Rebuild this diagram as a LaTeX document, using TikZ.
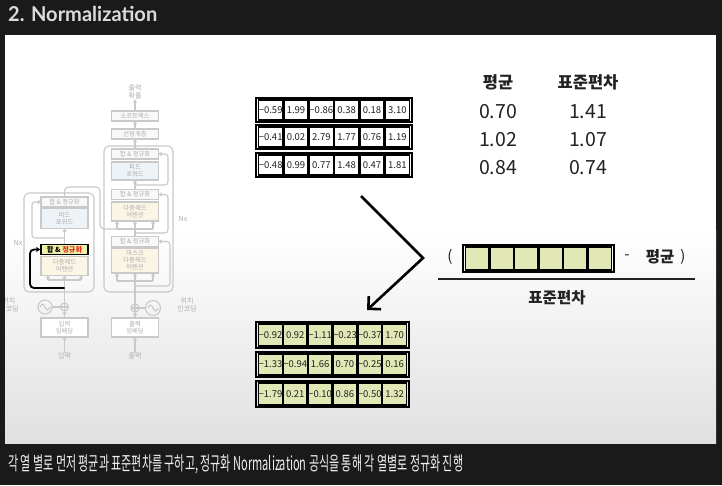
\documentclass[tikz,border=0pt]{standalone}
\usepackage{fontspec}
\setmainfont{Noto Sans CJK KR}
\newfontfamily\titlefont{Lato}
\usetikzlibrary{arrows.meta}
\definecolor{bg}{HTML}{1A1A1A}
\definecolor{fl}{HTML}{C9C9C9}
\definecolor{ft}{HTML}{ADADAD}
\definecolor{cellfill}{HTML}{E2E7B6}
\definecolor{ffblue}{HTML}{EEF3F8}
\definecolor{attn}{HTML}{FBF5E6}
\definecolor{fnorm}{HTML}{F8F8F8}
\definecolor{hl}{HTML}{EEF0A8}
\definecolor{hlred}{HTML}{E02A1A}
\definecolor{capt}{HTML}{F0F0F0}
\definecolor{titlecol}{HTML}{DCDCDC}
\definecolor{ink}{HTML}{222222}
\tikzset{
  fbox/.style={draw=fl, line width=1.1pt, fill=white, minimum width=47pt, inner sep=0pt, outer sep=0pt,
    font=\fontsize{6.3}{7}\selectfont, text=ft, align=center},
  ftext/.style={inner sep=0pt, font=\fontsize{7}{8}\selectfont, text=ft, align=center},
  fline/.style={draw=fl, line width=1.1pt},
  farrow/.style={draw=fl, line width=1.1pt, -{Triangle[length=3pt,width=4pt]}},
  rowbox/.style={draw=black, line width=2pt, inner sep=0pt, outer sep=0pt},
  cellbox/.style={draw=black, line width=1.3pt, inner sep=0pt, outer sep=0pt, text=ink,
    font=\fontsize{9.5}{10}\selectfont},
  bigtext/.style={inner sep=0pt, text=ink},
}
\newcommand\mrow[7]{%
  \node[rowbox, minimum width=#4, minimum height=#5, anchor=north west] (#1) at (#2,#3) {};
  \foreach \v [count=\i] in {#7} {
    \node[cellbox, fill=#6, minimum width={(#4-4)/6-1.2}, minimum height={#5-4}, anchor=north west]
      (#1-\i) at ({#2+2.6+(\i-1)*(#4-4)/6}, #3+2) {\v};
  }%
}
\begin{document}
\begin{tikzpicture}[x=1pt,y=-1pt]
\fill[bg] (0,0) rectangle (722,485);
\path[use as bounding box] (0,0) rectangle (722,485);
% panel
\fill[white] (5,35) rectangle (716,443);
\shade[top color=white, bottom color=black!12] (5,230) rectangle (716,443);
% title
\node[anchor=base west, inner sep=0pt, text=titlecol] (title) at (8,21.5)
  {\resizebox{149pt}{\height}{\titlefont\bfseries\fontsize{20.5}{24}\selectfont 2. Normalization}};
% caption
\node[anchor=west, inner sep=0pt, text=capt] (caption) at (8,464)
  {\resizebox{455pt}{\height}{\fontsize{19}{22}\selectfont 각 열 별로 먼저 평균과 표준편차를 구하고, 정규화 Normalization 공식을 통해 각 열별로 정규화 진행}};

\begin{scope}
\clip (5,35) rectangle (716,443);
% ---------- faded transformer ----------
\node[draw=fl, line width=1.1pt, rounded corners=5pt, minimum width=70pt, minimum height=99pt, inner sep=0pt] (eBlock) at (59,242.5) {};
\node[draw=fl, line width=1.1pt, rounded corners=5pt, minimum width=69pt, minimum height=146pt, inner sep=0pt] (dBlock) at (138.5,219) {};
% encoder
\node[fbox, minimum height=10pt, fill=fnorm] (eAN2) at (64.5,202) {합 \& 정규화};
\node[fbox, minimum height=20pt, fill=ffblue] (eFF) at (64.5,218.5) {피드\\포워드};
\node[fbox, minimum height=19pt, fill=attn] (eMHA) at (64.5,266) {다중헤드\\어텐션};
\node[draw=black, line width=1.5pt, fill=hl, minimum width=47pt, minimum height=10pt, inner sep=0pt,
  font=\fontsize{7.2}{8}\selectfont\bfseries] (eAN1) at (64.5,249.5) {합 \& \textcolor{hlred}{정규화}};
\node[fbox, minimum height=19pt] (eEmb) at (64.5,327.5) {입력\\임베딩};
\node[ftext] (eIn) at (64.5,356) {입력};
\node[circle, draw=fl, line width=1.1pt, minimum size=8pt, inner sep=0pt, outer sep=0pt] (ePlus) at (64.5,307) {};
\draw[fline] (ePlus.north) -- (ePlus.south) (ePlus.west) -- (ePlus.east);
\node[circle, draw=fl, line width=1.1pt, minimum size=14pt, inner sep=0pt, outer sep=0pt] (eWave) at (45,307) {};
\draw[fline] ([xshift=-5pt]eWave.center) sin ++(2.5,-3) cos ++(2.5,3) sin ++(2.5,3) cos ++(2.5,-3);
\draw[fline] (eWave.east) -- (ePlus.west);
\node[ftext] (eNx) at (18,243) {Nx};
\node[ftext] (ePos) at (9,305) {위치\\인코딩};
\draw[farrow] (eIn.north) -- (eEmb.south);
\draw[farrow] (eEmb.north) -- (ePlus.south);
\draw[fline] (ePlus.north) -- (64.5,280);
\draw[fline] (48,280) -- (81,280);
\foreach \xx in {48,64.5,81} \draw[farrow] (\xx,280) -- (\xx,275.5);
\draw[farrow] (eAN1.north) -- (eFF.south);
\draw[farrow, rounded corners=3pt] (64.5,238) -- (32,238) -- (32,202) -- (eAN2.west);
\draw[fline, rounded corners=4pt] (eAN2.north) -- (64.5,187) -- (100,187) -- (100,229) -- (117,229);
\draw[black, line width=1.8pt, rounded corners=4pt, -{Triangle[length=4pt,width=5pt]}]
  (64.5,288) -- (30,288) -- (30,249.5) -- (eAN1.west);
% decoder
\node[ftext] (dOut) at (135,92) {출력\\확률};
\node[fbox, minimum height=10pt, fill=fnorm] (dSoft) at (135,116) {소프트맥스};
\node[fbox, minimum height=10pt, fill=fnorm] (dLin) at (135,134) {선형계층};
\node[fbox, minimum height=10pt, fill=fnorm] (dAN3) at (135,154) {합 \& 정규화};
\node[fbox, minimum height=18pt, fill=ffblue] (dFF) at (135,171) {피드\\포워드};
\node[fbox, minimum height=10pt, fill=fnorm] (dAN2) at (135,194.5) {합 \& 정규화};
\node[fbox, minimum height=19pt, fill=attn] (dMHA) at (135,211.5) {다중헤드\\어텐션};
\node[fbox, minimum height=10pt, fill=fnorm] (dAN1) at (135,241.5) {합 \& 정규화};
\node[fbox, minimum height=25pt, fill=attn] (dMMHA) at (135,260.5) {마스크\\다중헤드\\어텐션};
\node[fbox, minimum height=19pt] (dEmb) at (135,327.5) {출력\\임베딩};
\node[ftext] (dIn) at (135,356) {출력};
\node[circle, draw=fl, line width=1.1pt, minimum size=8pt, inner sep=0pt, outer sep=0pt] (dPlus) at (135,308) {};
\draw[fline] (dPlus.north) -- (dPlus.south) (dPlus.west) -- (dPlus.east);
\node[circle, draw=fl, line width=1.1pt, minimum size=15pt, inner sep=0pt, outer sep=0pt] (dWave) at (153,308) {};
\draw[fline] ([xshift=-5pt]dWave.center) sin ++(2.5,-3) cos ++(2.5,3) sin ++(2.5,3) cos ++(2.5,-3);
\draw[fline] (dWave.west) -- (dPlus.east);
\node[ftext] (dNx) at (183,219) {Nx};
\node[ftext] (dPos) at (187,305) {위치\\인코딩};
\draw[farrow] (dIn.north) -- (dEmb.south);
\draw[farrow] (dEmb.north) -- (dPlus.south);
\draw[fline] (dPlus.north) -- (135,281);
\draw[fline] (117,281) -- (153,281);
\foreach \xx in {117,135,153} \draw[farrow] (\xx,281) -- (\xx,273);
\draw[farrow, rounded corners=3pt] (135,286) -- (170,286) -- (170,241.5) -- (dAN1.east);
\draw[fline] (dAN1.north) -- (135,229);
\draw[fline] (117,229) -- (153,229);
\foreach \xx in {117,135,153} \draw[farrow] (\xx,229) -- (\xx,221);
\draw[farrow, rounded corners=3pt] (135,233) -- (168,233) -- (168,194.5) -- (dAN2.east);
\draw[farrow] (dAN2.north) -- (dFF.south);
\draw[farrow, rounded corners=3pt] (135,185) -- (168,185) -- (168,154) -- (dAN3.east);
\draw[farrow] (dAN3.north) -- (dLin.south);
\draw[farrow] (dLin.north) -- (dSoft.south);
\draw[farrow] (dSoft.north) -- (dOut.south);
\end{scope}

% ---------- input matrix ----------
\mrow{t1}{256}{98}{156}{24}{white}{−0.59,1.99,−0.86,0.38,0.18,3.10}
\mrow{t2}{256}{125}{156}{24}{white}{−0.41,0.02,2.79,1.77,0.76,1.19}
\mrow{t3}{256}{153}{156}{24}{white}{−0.48,0.99,0.77,1.48,0.47,1.81}
% ---------- normalized matrix ----------
\mrow{b1}{256}{322}{153}{26}{cellfill}{−0.92,0.92,−1.11,−0.23,−0.37,1.70}
\mrow{b2}{256}{352}{153}{25}{cellfill}{−1.33,−0.94,1.66,0.70,−0.25,0.16}
\mrow{b3}{256}{381}{153}{26}{cellfill}{−1.79,0.21,−0.10,0.86,−0.50,1.32}

% ---------- mean / std table ----------
\node[bigtext, font=\fontsize{16.5}{18}\selectfont\bfseries] (hMean) at (498,82) {평균};
\node[bigtext, font=\fontsize{16.5}{18}\selectfont\bfseries] (hStd) at (588,82) {표준편차};
\node[bigtext, font=\fontsize{19.5}{22}\selectfont] (m1) at (498,112) {0.70};
\node[bigtext, font=\fontsize{19.5}{22}\selectfont] (s1) at (588,112) {1.41};
\node[bigtext, font=\fontsize{19.5}{22}\selectfont] (m2) at (498,140) {1.02};
\node[bigtext, font=\fontsize{19.5}{22}\selectfont] (s2) at (588,140) {1.07};
\node[bigtext, font=\fontsize{19.5}{22}\selectfont] (m3) at (498,168) {0.84};
\node[bigtext, font=\fontsize{19.5}{22}\selectfont] (s3) at (588,168) {0.74};

% ---------- formula ----------
\node[bigtext, font=\fontsize{15}{18}\selectfont] (lpar) at (450,257) {(};
\mrow{f}{463}{245}{151}{27}{cellfill}{{},{},{},{},{},{}}
\node[bigtext, font=\fontsize{15}{18}\selectfont] (minus) at (627,257) {-};
\node[bigtext, font=\fontsize{15.5}{18}\selectfont\bfseries] (fMean) at (660,257) {평균};
\node[bigtext, font=\fontsize{15}{18}\selectfont] (rpar) at (683,257) {)};
\coordinate (fracL) at (438,279);
\coordinate (fracR) at (695,279);
\draw[ink, line width=2pt] (fracL) -- (fracR);
\node[bigtext, font=\fontsize{15.5}{18}\selectfont\bfseries] (fStd) at (557,298) {표준편차};

% ---------- big arrow ----------
\coordinate (arrA) at (361,196);
\coordinate (arrV) at (423,258);
\coordinate (arrB) at (367,310);
\draw[black, line width=2.6pt, line join=miter, -{Straight Barb[length=9pt,width=18pt]}] (arrA) -- (arrV) -- (arrB);
\end{tikzpicture}
\end{document}
